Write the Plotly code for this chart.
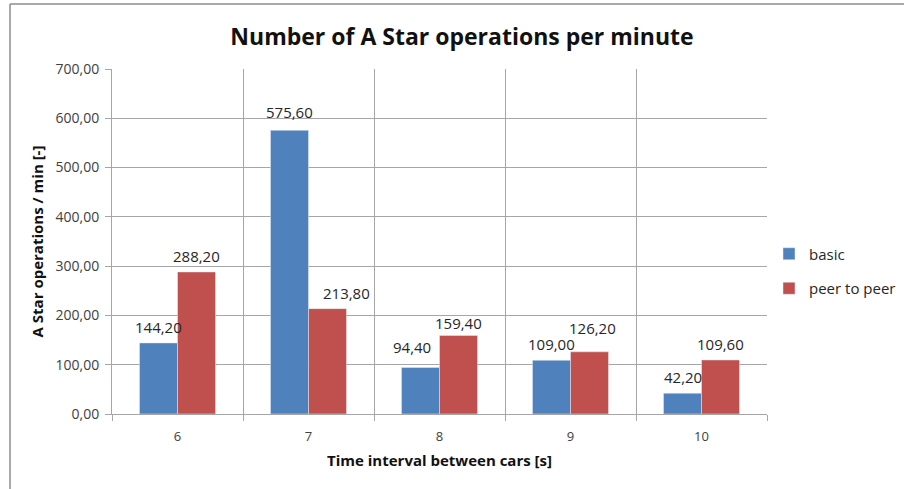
import plotly.graph_objects as go

# Time interval between cars [s]
intervals = ["6", "7", "8", "9", "10"]
# A Star operations per minute
basic = [144.20, 575.60, 94.40, 109.00, 42.20]
peer_to_peer = [288.20, 213.80, 159.40, 126.20, 109.60]

y_ticks = [0, 100, 200, 300, 400, 500, 600, 700]

# per-label nudges (px) so neighbouring value labels do not collide
basic_nudge = [(0, 0), (0, 2), (-9, 4), (0, 0), (0, 0)]
p2p_nudge = [(0, 0), (19, 0), (0, -4), (3, 8), (0, 0)]


def fmt(v):
    return f"{v:.2f}".replace(".", ",")


BLUE = "#4F81BD"
RED = "#C0504D"
GRID = "#A6A6A6"
TXT = "#262626"

fig = go.Figure()
fig.add_trace(go.Bar(x=intervals, y=basic, name="basic",
                     marker_color=BLUE, legendgroup="a"))
fig.add_trace(go.Bar(x=intervals, y=peer_to_peer, name="peer to peer",
                     marker_color=RED, legendgroup="b"))

# value labels above each bar (x given as category index on the category axis)
BAR_HALF = 19
for vals, side, nudges in ((basic, -1, basic_nudge), (peer_to_peer, 1, p2p_nudge)):
    for i, (v, (dx, dy)) in enumerate(zip(vals, nudges)):
        fig.add_annotation(
            x=i, y=v, text=fmt(v), showarrow=False,
            xanchor="center", yanchor="middle",
            xshift=side * BAR_HALF + dx, yshift=16 + dy,
            font=dict(size=15, color=TXT),
        )

W, H = 904, 489
L, R, T, B = 112, 137, 69, 75
pw, ph = W - L - R, H - T - B


def px_x(x):
    return (x - L) / pw


def px_y(y):
    return (H - B - y) / ph


fig.update_layout(
    width=W, height=H,
    margin=dict(l=L, r=R, t=T, b=B, autoexpand=False),
    paper_bgcolor="white", plot_bgcolor="white",
    font=dict(family="Open Sans, sans-serif", color=TXT),
    barmode="group", bargap=0.42, bargroupgap=0,
    title=dict(
        text="<b>Number of A Star operations per minute</b>",
        xref="container", x=462 / W, xanchor="center",
        y=1 - 37 / H, yanchor="middle",
        font=dict(size=23, color="#111111"),
    ),
    legend=dict(
        x=px_x(769), xanchor="left", y=px_y(271), yanchor="middle",
        font=dict(size=15, color=TXT),
        traceorder="grouped", tracegroupgap=12,
        bgcolor="rgba(0,0,0,0)",
    ),
    showlegend=True,
)

fig.update_xaxes(
    type="category", tickson="boundaries",
    showgrid=True, gridcolor=GRID, gridwidth=1,
    showline=True, linecolor=GRID, linewidth=1,
    ticks="outside", ticklen=6, tickcolor=GRID,
    ticklabelstandoff=10,
    tickfont=dict(size=13, color="#404040"),
    title=dict(text="<b>Time interval between cars [s]</b>",
               font=dict(size=15, color="#111111"), standoff=11),
)
fig.update_yaxes(
    range=[0, 700], tickvals=y_ticks, ticktext=[fmt(v) for v in y_ticks],
    showgrid=True, gridcolor=GRID, gridwidth=1,
    showline=True, linecolor=GRID, linewidth=1,
    ticks="outside", ticklen=6, tickcolor=GRID,
    ticklabelstandoff=3,
    tickfont=dict(size=14, color="#404040"),
    zeroline=False,
    title=dict(text="<b>A Star operations / min [-]</b>",
               font=dict(size=15, color="#111111"), standoff=8),
)

# chart frame: top and left edges
frame = "#8C8C8C"
fig.add_shape(type="line", xref="paper", yref="paper",
              x0=px_x(10), x1=px_x(W), y0=px_y(4), y1=px_y(4),
              line=dict(color=frame, width=1.5))
fig.add_shape(type="line", xref="paper", yref="paper",
              x0=px_x(10), x1=px_x(10), y0=px_y(4), y1=px_y(H),
              line=dict(color=frame, width=1.5))

fig.write_html("out.html", config={"displayModeBar": False})
